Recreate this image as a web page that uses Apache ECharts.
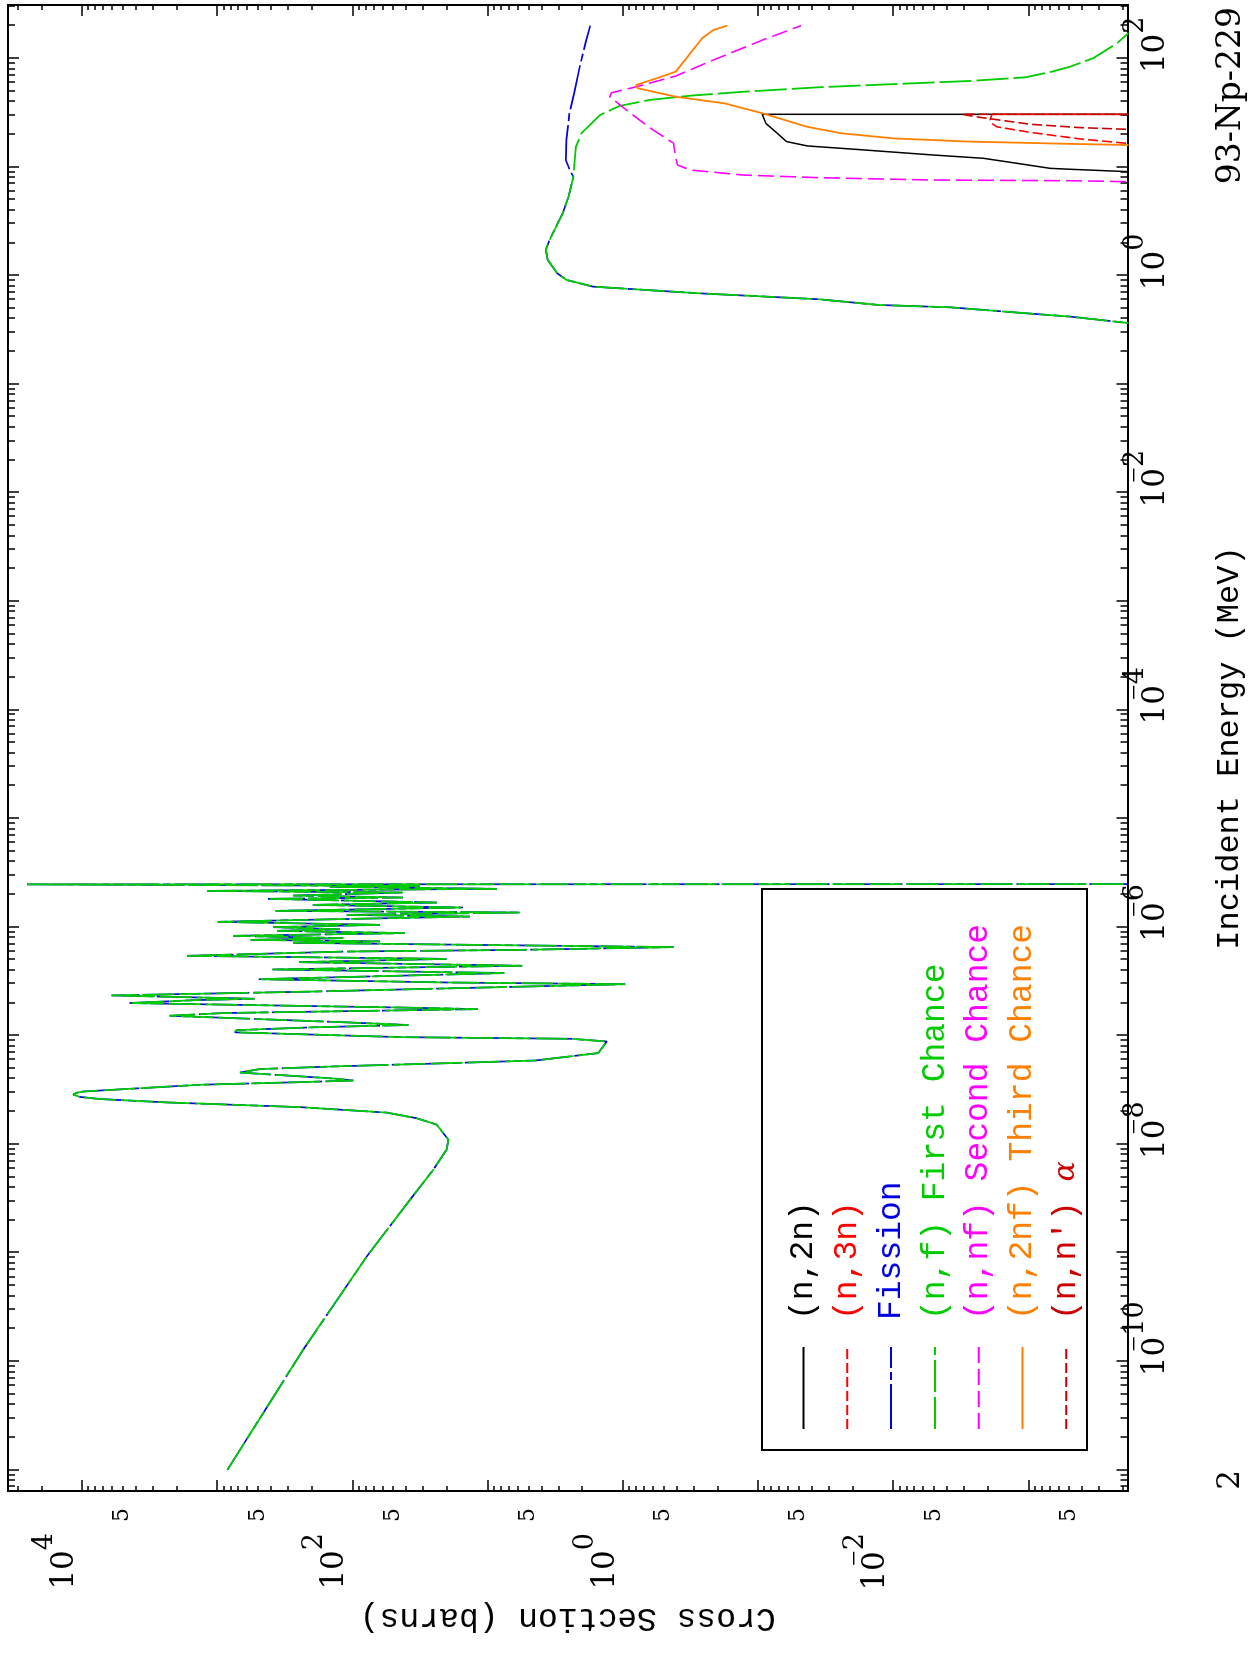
<!DOCTYPE html>
<html>
<head>
<meta charset="utf-8">
<script src="https://cdn.jsdelivr.net/npm/echarts@6/dist/echarts.min.js"></script>
<style>
html,body{margin:0;padding:0;width:1250px;height:1663px;overflow:hidden;background:#fff;}
#chart{position:absolute;left:0;top:0;width:1663px;height:1250px;transform-origin:0 0;transform:translate(0px,1663px) rotate(-90deg);background:#fff;}
</style>
</head>
<body>
<div id="chart"></div>
<script>
// ---------------- data (energy in MeV, cross section in barns) ----------------
const resEnergy = [
  1.0e-11, 1.28e-10, 9.2e-10, 3.07e-9, 5.8e-9, 8.87e-9, 1.10e-8, 1.51e-8, 1.73e-8, 1.95e-8,
  2.19e-8, 2.42e-8, 2.60e-8, 2.72e-8, 2.85e-8, 2.96e-8, 3.05e-8, 3.52e-8, 3.72e-8, 3.85e-8, 4.02e-8, 4.56e-8,
  4.91e-8, 5.19e-8, 5.57e-8, 5.89e-8, 6.89e-8, 8.81e-8, 9.33e-8, 9.66e-8, 1.07e-7, 1.12e-7,
  1.19e-7, 1.25e-7, 1.32e-7, 1.52e-7, 1.61e-7, 1.75e-7, 1.81e-7, 1.99e-7, 2.12e-7, 2.18e-7,
  2.34e-7, 2.54e-7, 2.97e-7, 3.08e-7, 3.30e-7, 3.76e-7, 4.06e-7, 4.39e-7, 4.74e-7, 5.08e-7,
  5.42e-7, 5.93e-7, 6.15e-7, 6.52e-7, 7.14e-7, 7.37e-7, 7.60e-7, 7.89e-7, 8.28e-7, 8.77e-7,
  9.21e-7, 9.51e-7, 9.96e-7, 1.045e-6, 1.114e-6, 1.175e-6, 1.247e-6, 1.291e-6, 1.358e-6, 1.406e-6,
  1.510e-6, 1.596e-6, 1.678e-6, 1.815e-6, 1.866e-6, 1.946e-6, 2.075e-6, 2.148e-6, 2.244e-6, 2.339e-6,
  2.388e-6, 2.466e-6, 2.483e-6
];
const resXs = [
  840, 231, 78.4, 37.5, 25.2, 20.1, 19.5, 23.8, 33.4, 55.7,
  244, 2360, 7360, 10350, 11600, 11070, 9780, 1340, 244, 98.4, 138, 678,
  482, 138, 19.0, 4.41, 1.52, 1.31, 2.40, 43.1, 740, 720,
  197, 38.5, 107, 2250, 903, 11.8, 43.1, 4450, 1430, 530,
  6040, 197, 0.96, 20.2, 492, 7.50, 391, 5.54, 248, 20.1,
  1670, 117, 5.75, 0.418, 275, 62.5, 572, 117, 764, 40.8,
  361, 124, 386, 62.5, 1000, 147, 13.5, 110, 5.75, 373,
  15.2, 196, 23.7, 421, 42.3, 275, 42.3, 1190, 8.52, 147,
  31.6, 25500, 1e-6
];
const fastEnergy = [0.30, 0.366, 0.418, 0.449, 0.509, 0.535, 0.604, 0.686, 0.789, 0.910, 1.05, 1.39, 1.72, 2.12, 3.74, 5.32, 8.13];
const fastXs     = [1e-6, 1.87e-4, 4.92e-4, 1.05e-3, 3.78e-3, 0.0128, 0.0356, 0.277, 1.66, 2.61, 3.06, 3.59, 3.71, 3.48, 2.78, 2.52, 2.32];

const fissionHighEnergy = [9.04, 11.6, 17.7, 31.2, 47.6, 83.7, 137, 200];
const fissionHighXs     = [2.44, 2.64, 2.61, 2.48, 2.29, 2.08, 1.89, 1.74];

const firstChanceHighEnergy = [10.0, 15.3, 20.4, 30.1, 36.4, 41.3, 45.3, 49.2, 54.1, 57.9, 61.8, 66.8, 75.4, 83.7, 100, 137, 170, 200];
const firstChanceHighXs     = [2.29, 2.22, 2.02, 1.47, 1.06, 0.637, 0.315, 0.128, 0.0356, 9.9e-3, 2.75e-3, 1.05e-3, 6.7e-4, 4.92e-4, 3.33e-4, 2.22e-4, 1.83e-4, 1.5e-4];

const secondChanceEnergy = [7.16, 7.31, 7.46, 7.57, 7.96, 8.41, 9.35, 10.4, 12.4, 16.5, 21.9, 31.2, 44.3, 48.2, 54.1, 68.7, 96.4, 147, 200];
const secondChanceXs     = [1e-6, 1.83e-4, 4.92e-4, 5.21e-3, 0.0356, 0.128, 0.315, 0.394, 0.407, 0.421, 0.597, 0.877, 1.25, 1.21, 0.822, 0.406, 0.214, 0.093, 0.048];

const thirdChanceEnergy = [15.5, 15.9, 16.3, 17.1, 18.3, 20.4, 23.4, 31.2, 38.5, 44.3, 53.0, 56.8, 65.5, 75.4, 96.4, 153, 182, 200];
const thirdChanceXs     = [1e-6, 1.83e-4, 4.92e-4, 2.75e-3, 9.9e-3, 0.0243, 0.0432, 0.0931, 0.177, 0.406, 0.773, 0.798, 0.561, 0.406, 0.347, 0.259, 0.214, 0.169];

const n2nEnergy = [8.81, 9.04, 9.51, 9.70, 10.8, 12.0, 12.9, 14.5, 15.6, 17.1, 20.4, 25.2, 30.5, 30.5];
const n2nXs     = [1e-6, 1.83e-4, 4.92e-4, 6.92e-4, 1.22e-3, 2.15e-3, 5.21e-3, 0.0188, 0.0432, 0.0615, 0.0721, 0.0875, 0.0931, 1e-6];

const n3nEnergy = [16.0, 16.5, 18.1, 20.8, 23.4, 25.2, 27.0, 30.5, 30.5];
const n3nXs     = [1e-6, 1.87e-4, 4.15e-4, 9.7e-4, 1.71e-3, 1.87e-3, 1.92e-3, 1.86e-3, 1e-6];

const nnAlphaEnergy = [21.8, 22.2, 23.0, 24.7, 28.6, 30.5, 30.5];
const nnAlphaXs     = [1e-6, 1.87e-4, 4.15e-4, 9.7e-4, 2.28e-3, 3.11e-3, 1e-6];

const seriesNames = ['(n,2n)', '(n,3n)', 'Fission', '(n,f) First Chance', '(n,nf) Second Chance', '(n,2nf) Third Chance', "(n,n')α"];

// axis extents (decades) and tick exponents
const energyRange = [-11.195, 2.491];
const xsRange = [-3.733, 4.547];
const energyMajorExp = [-11, -10, -9, -8, -7, -6, -5, -4, -3, -2, -1, 0, 1, 2];
const energyLabelExp = [-10, -8, -6, -4, -2, 0, 2];
const xsMajorExp = [-3, -2, -1, 0, 1, 2, 3, 4];
const xsLabelExp = [-2, 0, 2, 4];
const xsFiveLabel = [-4, -3, -2, -1, 0, 1, 2, 3];

// ---------------- helpers ----------------
function toLogPairs(es, xs) { return es.map((e, i) => [Math.log10(e), Math.log10(xs[i])]); }
function minorTicks(range) {
  const out = [];
  for (let n = Math.floor(range[0]); n <= Math.ceil(range[1]); n++) {
    for (let k = 2; k <= 9; k++) {
      const v = n + Math.log10(k);
      if (v >= range[0] && v <= range[1]) out.push(v);
    }
  }
  return out;
}
function powLabel(v, pre) {
  const e = Math.round(v);
  const d = String(Math.abs(e));
  let b = pre + (e >= 0 ? 'b0' : (d.length === 1 ? 'b1' : 'b2'));
  if (pre === 'y') b = 'yb';
  return e < 0 ? '{' + b + '|10}{' + pre + 'm|\u2212}{' + pre + 's|' + d + '}'
               : '{' + b + '|10}{' + pre + 's|' + d + '}';
}

const SERIF = 'DejaVu Serif';
const MONO = 'Liberation Mono';
const richX = {
  xb0: {fontFamily: SERIF, fontSize: 31, lineHeight: 31, color: '#000', padding: [0, 0, 0, 27], verticalAlign: 'bottom', align: 'left'},
  xb1: {fontFamily: SERIF, fontSize: 31, lineHeight: 31, color: '#000', padding: [0, 0, 0, 28], verticalAlign: 'bottom', align: 'left'},
  xb2: {fontFamily: SERIF, fontSize: 31, lineHeight: 31, color: '#000', padding: [0, 0, 0, 45], verticalAlign: 'bottom', align: 'left'},
  xs: {fontFamily: SERIF, fontSize: 27, lineHeight: 27, color: '#000', padding: [0, 0, 22, 0], verticalAlign: 'bottom', align: 'right'},
  xm: {fontFamily: 'Liberation Serif', fontSize: 28, lineHeight: 27, width: 1, color: '#000', padding: [0, 0, 22, 0], verticalAlign: 'bottom', align: 'right'}
};
const richY = {
  yb: {fontFamily: SERIF, fontSize: 31, lineHeight: 31, color: '#000', verticalAlign: 'bottom', align: 'left'},
  ys: {fontFamily: SERIF, fontSize: 27, lineHeight: 27, color: '#000', padding: [0, 0, 22, 0], verticalAlign: 'bottom', align: 'right'},
  ym: {fontFamily: 'Liberation Serif', fontSize: 28, lineHeight: 27, width: 1, color: '#000', padding: [0, 0, 22, 0], verticalAlign: 'bottom', align: 'right'}
};

const axisLineStyle = {show: true, onZero: false, lineStyle: {color: '#000', width: 2}};
function xAxisDef(pos, major, withLabels) {
  const a = {
    type: 'value', position: pos, min: energyRange[0], max: energyRange[1],
    axisLine: axisLineStyle, splitLine: {show: false},
    axisTick: {show: true, inside: true, length: major ? 11 : 7, lineStyle: {color: '#000', width: 1.5},
               customValues: major ? energyMajorExp : minorTicks(energyRange)},
    axisLabel: {show: false}
  };
  if (withLabels) {
    a.axisLabel = {show: true, customValues: energyLabelExp, margin: 13, formatter: v => powLabel(v, 'x'), rich: richX};
    a.name = 'Incident Energy (MeV)';
    a.nameLocation = 'middle';
    a.nameGap = 86;
    a.nameTextStyle = {fontFamily: MONO, fontSize: 32, color: '#000'};
  }
  return a;
}
function yAxisDef(pos, major, labels) {
  const a = {
    type: 'value', position: pos, min: xsRange[0], max: xsRange[1],
    axisLine: axisLineStyle, splitLine: {show: false},
    axisTick: {show: true, inside: true, length: major ? 11 : 5, lineStyle: {color: '#000', width: 1.5},
               customValues: major ? xsMajorExp : minorTicks(xsRange)},
    axisLabel: {show: false}
  };
  if (labels === 'pow') {
    a.axisLabel = {show: true, customValues: xsLabelExp, margin: 42, padding: [0, 0, 34, 0], formatter: v => powLabel(v, 'y'), rich: richY};
    a.name = 'Cross Section (barns)';
    a.nameLocation = 'middle';
    a.nameGap = 96;
    a.nameTextStyle = {fontFamily: MONO, fontSize: 33, color: '#000'};
  } else if (labels === 'five') {
    a.axisLabel = {show: true, customValues: xsFiveLabel.map(n => n + Math.log10(5)), margin: 17, padding: [0, 0, 11, 0],
                   formatter: () => '5', fontFamily: SERIF, fontSize: 22, color: '#000'};
  }
  return a;
}

const colors = ['#000000', '#ff0000', '#0000e0', '#00cc00', '#ff00ff', '#ff8000', '#cc0000'];
const dashes = ['solid', [10, 4], [45, 4, 8, 4], [32, 5], [16, 6], 'solid', [10, 4]];
const widths = [1.5, 1.6, 1.7, 1.8, 1.6, 1.8, 1.6];
const seriesData = [
  toLogPairs(n2nEnergy, n2nXs),
  toLogPairs(n3nEnergy, n3nXs),
  toLogPairs(resEnergy.concat(fastEnergy, fissionHighEnergy), resXs.concat(fastXs, fissionHighXs)),
  toLogPairs(resEnergy.concat(fastEnergy, firstChanceHighEnergy), resXs.concat(fastXs, firstChanceHighXs)),
  toLogPairs(secondChanceEnergy, secondChanceXs),
  toLogPairs(thirdChanceEnergy, thirdChanceXs),
  toLogPairs(nnAlphaEnergy, nnAlphaXs)
];

const chart = echarts.init(document.getElementById('chart'), null, {renderer: 'canvas'});
chart.setOption({
  animation: false,
  backgroundColor: '#fff',
  grid: {left: 172, right: 5, top: 8, bottom: 122.5, containLabel: false, outerBoundsMode: 'none'},
  xAxis: [xAxisDef('bottom', true, true), xAxisDef('bottom', false, false), xAxisDef('top', true, false), xAxisDef('top', false, false)],
  yAxis: [yAxisDef('left', true, 'pow'), yAxisDef('left', false, 'five'), yAxisDef('right', true, null), yAxisDef('right', false, null)],
  legend: {
    orient: 'vertical', left: 233, top: 787, padding: 0,
    itemWidth: 82, itemHeight: 14, itemGap: 10.8, selectedMode: false,
    itemStyle: {opacity: 0, borderWidth: 0},
    textStyle: {fontFamily: MONO, fontSize: 33, lineHeight: 30, padding: [0, 0, 0, 22],
                rich: {g: {fontFamily: SERIF, fontStyle: 'italic', fontSize: 30, color: '#cc0000'}}},
    formatter: name => name.indexOf('α') >= 0 ? "(n,n') {g|α}" : name,
    data: seriesNames.map((n, i) => ({name: n, textStyle: {color: colors[i]}}))
  },
  graphic: [
    {type: 'rect', shape: {x: 213, y: 762, width: 561, height: 325}, style: {fill: 'none', stroke: '#000', lineWidth: 2}, silent: true},
    {type: 'text', x: 1656, y: 1231, style: {text: '93-Np-229', font: '33px "DejaVu Serif"', fill: '#000',
      textAlign: 'right', textVerticalAlign: 'middle', align: 'right', verticalAlign: 'middle'}},
    {type: 'text', x: 183, y: 1231, style: {text: '2', font: '31px "DejaVu Serif"', fill: '#000',
      textAlign: 'center', textVerticalAlign: 'middle', align: 'center', verticalAlign: 'middle'}}
  ],
  series: seriesNames.map((n, i) => ({
    name: n, type: 'line', xAxisIndex: 0, yAxisIndex: 0, data: seriesData[i],
    symbol: 'none', showSymbol: false, clip: true, smooth: false,
    lineStyle: {color: colors[i], width: widths[i], type: dashes[i]},
    itemStyle: {color: colors[i]}, z: 2 + i
  }))
});
</script>
</body>
</html>
